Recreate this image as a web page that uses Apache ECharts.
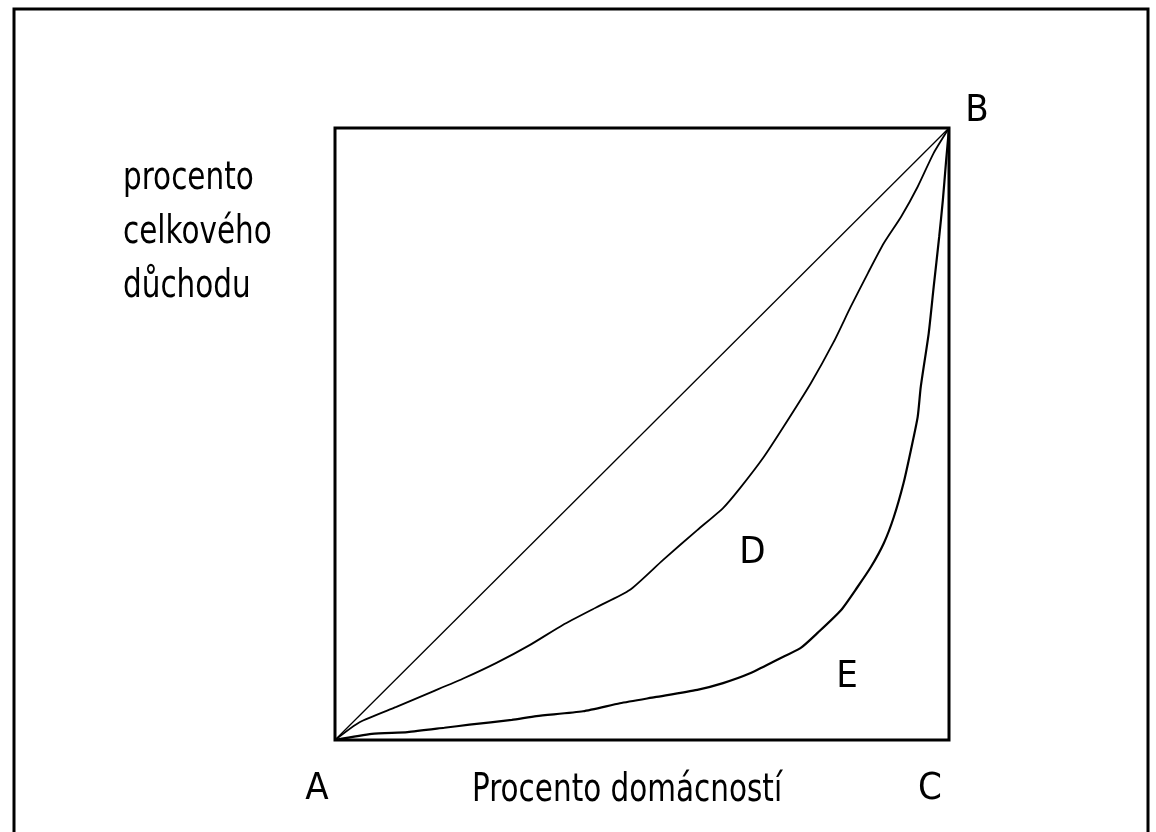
<!DOCTYPE html>
<html>
<head>
<meta charset="utf-8">
<title>Lorenzova křivka</title>
<script src="https://cdn.jsdelivr.net/npm/echarts@6/dist/echarts.min.js"></script>
<style>
  html, body { margin: 0; padding: 0; background: #fff; }
  #chart { width: 1156px; height: 832px; }
</style>
</head>
<body>
<div id="chart"></div>
<script>
// data (0..100 = procenta)
var equalityX = [0, 100];
var equalityY = [0, 100];

var curveDX = [0, 4, 10, 15.4, 20.8, 26.3, 31.7, 37.1, 42.6, 48, 53.4, 59, 63.2, 66, 69.8, 73, 77.5, 81.2, 84, 86.8, 89.4, 92.2, 94.9, 97.5, 100];
var curveDY = [0, 2.9, 5.4, 7.7, 10, 12.6, 15.5, 18.8, 21.7, 24.5, 29.4, 34.3, 37.9, 41.2, 46.2, 51.1, 58.3, 65, 70.8, 76.3, 81.2, 85.5, 90.4, 95.9, 100];

var curveEX = [0, 6, 11.8, 17.8, 21.9, 28.8, 32.8, 40.4, 46.4, 52.1, 59, 63.2, 67.6, 72.2, 75.8, 78.6, 82.4, 85.1, 87.3, 89.4, 91, 92.6, 93.8, 94.9, 95.4, 96.7, 97.5, 98.4, 99, 99.5, 100];
var curveEY = [0, 1, 1.3, 2, 2.5, 3.3, 3.9, 4.7, 6, 7, 8.2, 9.3, 10.9, 13.2, 15, 17.5, 21.2, 25, 28.3, 32.2, 36.4, 42, 47.4, 52.8, 57.7, 66.5, 74, 82.2, 88.2, 94.3, 100];

// popisky bodů
var cornerNames = ['A', 'B', 'C'];
var cornerX = [0, 100, 100];
var cornerY = [0, 100, 0];
var areaNames = ['D', 'E'];
var areaX = [68, 83.4];
var areaY = [30.5, 10.2];

var yTitle = ['procento', 'celkového', 'důchodu'];
var xTitle = 'Procento domácností';

var FONT = "'Liberation Sans Narrow', 'DejaVu Sans Condensed', sans-serif";

function zip(xs, ys) {
    var out = [];
    for (var i = 0; i < xs.length; i++) out.push([xs[i], ys[i]]);
    return out;
}

var myChart = echarts.init(document.getElementById('chart'));

var cornerOffsets = [[-18, 49], [28, -17], [-19, 49]];
var cornerData = [];
for (var i = 0; i < cornerNames.length; i++) {
    cornerData.push({
        value: [cornerX[i], cornerY[i]],
        name: cornerNames[i],
        label: { offset: cornerOffsets[i] }
    });
}
var areaData = [];
for (var j = 0; j < areaNames.length; j++) {
    areaData.push({ value: [areaX[j], areaY[j]], name: areaNames[j] });
}

var labelStyle = {
    show: true,
    position: 'inside',
    formatter: '{b}',
    color: '#000',
    opacity: 1,
    textBorderWidth: 0,
    fontFamily: FONT,
    fontSize: 38
};

var option = {
    animation: false,
    backgroundColor: '#fff',
    grid: {
        left: 335, top: 128, width: 614, height: 612,
        show: true,
        borderColor: '#000',
        borderWidth: 3,
        backgroundColor: 'transparent'
    },
    xAxis: {
        type: 'value', min: 0, max: 100,
        axisLine: { show: false }, axisTick: { show: false },
        axisLabel: { show: false }, splitLine: { show: false }
    },
    yAxis: {
        type: 'value', min: 0, max: 100,
        axisLine: { show: false }, axisTick: { show: false },
        axisLabel: { show: false }, splitLine: { show: false }
    },
    graphic: [
        {
            type: 'polyline',
            shape: { points: [[14, 832], [14, 9], [1148, 9], [1148, 832]] },
            style: { stroke: '#000', lineWidth: 3, fill: null },
            silent: true
        },
        {
            type: 'text',
            x: 123, y: 152, scaleX: 0.84,
            style: {
                text: yTitle.join('\n'),
                fill: '#000',
                font: '39px ' + FONT,
                lineHeight: 54
            }
        },
        {
            type: 'text',
            x: 472, y: 771, scaleX: 0.84,
            style: {
                text: xTitle,
                fill: '#000',
                font: '39px ' + FONT
            }
        }
    ],
    series: [
        {
            name: 'rovnost', type: 'line', data: zip(equalityX, equalityY),
            showSymbol: false, lineStyle: { color: '#000', width: 1.3 }
        },
        {
            name: 'D', type: 'line', data: zip(curveDX, curveDY), smooth: 0.2,
            showSymbol: false, lineStyle: { color: '#000', width: 1.8 }
        },
        {
            name: 'E', type: 'line', data: zip(curveEX, curveEY), smooth: 0.2,
            showSymbol: false, lineStyle: { color: '#000', width: 2.2 }
        },
        {
            name: 'rohy', type: 'scatter', data: cornerData, symbolSize: 0,
            clip: false, label: labelStyle, silent: true
        },
        {
            name: 'oblasti', type: 'scatter', data: areaData, symbolSize: 0,
            clip: false, label: labelStyle, silent: true
        }
    ]
};

myChart.setOption(option);
</script>
</body>
</html>
